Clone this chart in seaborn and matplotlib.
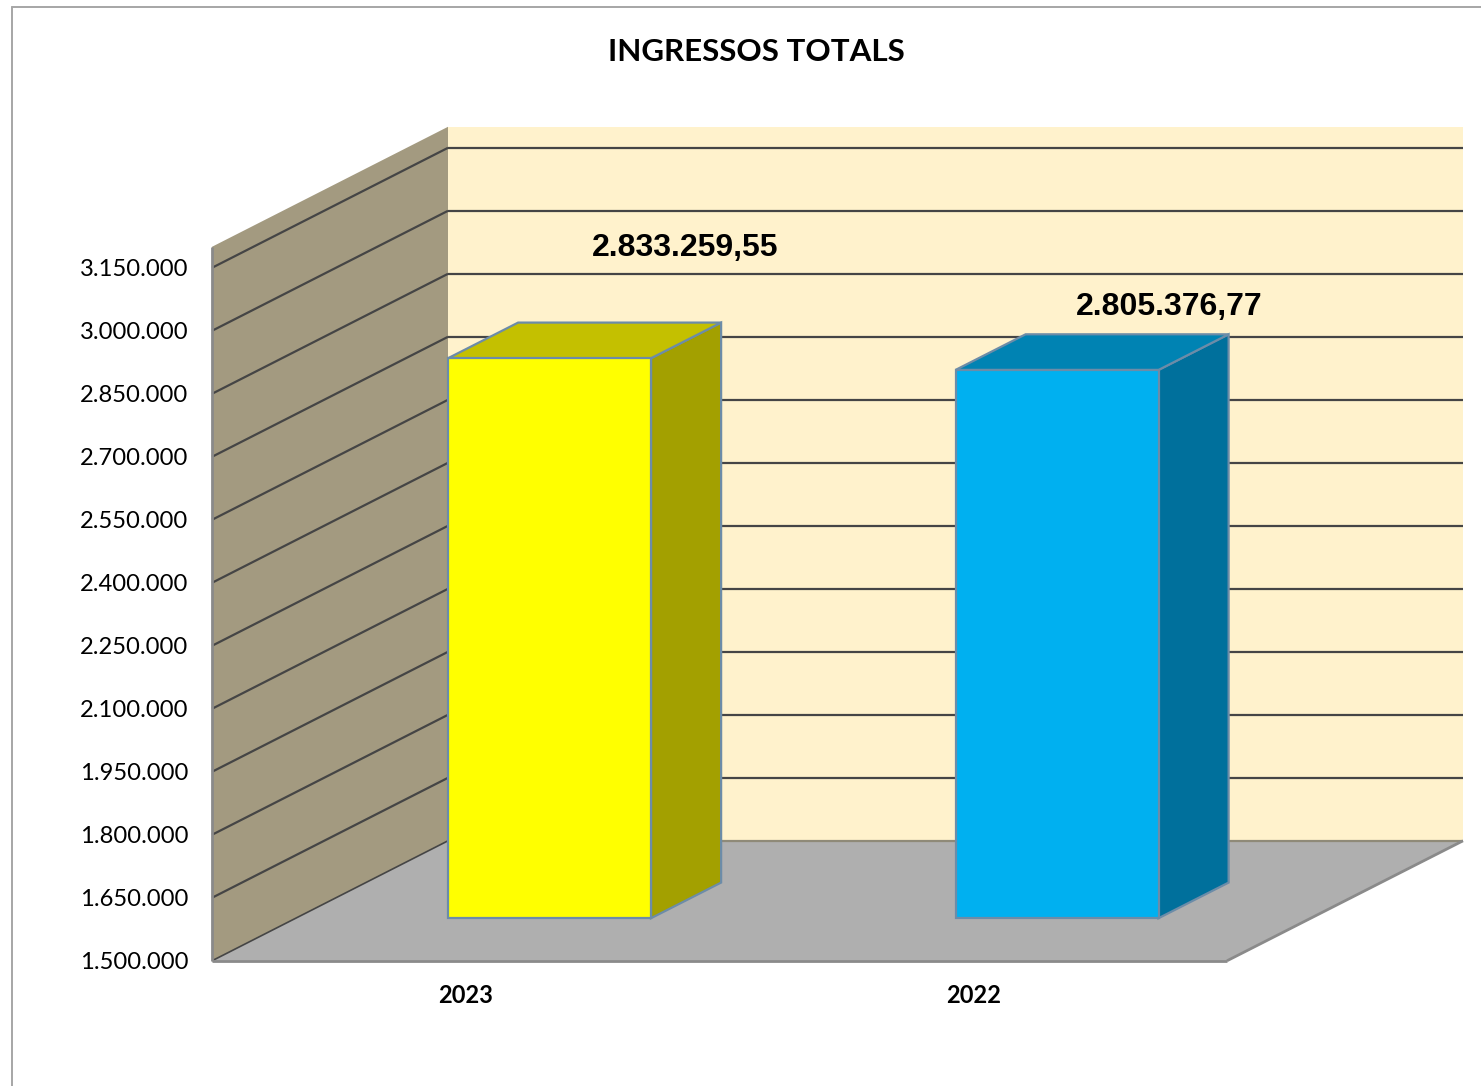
import numpy as np
import pandas as pd
import matplotlib
matplotlib.use("Agg")
import matplotlib.pyplot as plt
from matplotlib.lines import Line2D
from matplotlib.patches import Polygon
from matplotlib.transforms import Affine2D, IdentityTransform
import seaborn as sns

# ---- data ----
years = ["2023", "2022"]
values = [2833259.55, 2805376.77]
value_labels = ["2.833.259,55", "2.805.376,77"]
y_ticks = [1500000, 1650000, 1800000, 1950000, 2100000, 2250000,
           2400000, 2550000, 2700000, 2850000, 3000000, 3150000]
y_tick_labels = ["1.500.000", "1.650.000", "1.800.000", "1.950.000", "2.100.000", "2.250.000",
                 "2.400.000", "2.550.000", "2.700.000", "2.850.000", "3.000.000", "3.150.000"]
title = "INGRESSOS TOTALS"

# ---- style ----
front_colors = ["#FFFF00", "#00B0F0"]
top_colors = ["#C4C000", "#0083B3"]
side_colors = ["#A3A000", "#00709C"]
EDGE = "#6C8CA8"
BACK = "#FFF2CC"
LEFT = "#A39A80"
FLOOR = "#AFAFAF"
GRID = "#454545"
W, H = 1481, 1086
DX, DY = 236, 120        # full depth of the 3-D box, pixels
BAR_D0, BAR_D1 = 0.355, 0.652   # depth span of the bars as a fraction of the box
LABEL_OFFSETS = [(136, 110), (112, 63)]
UI = "Lato"

sns.set_theme(style="white")
plt.rcParams["font.family"] = [UI, "DejaVu Sans"]

fig = plt.figure(figsize=(W / 100, H / 100), dpi=100, facecolor="white")
ax = fig.add_axes([212 / W, (H - 960.8) / H, 1015 / W, 714 / H])
ax.patch.set_alpha(0)

df = pd.DataFrame({"year": years, "value": values})
sns.barplot(data=df, x="year", y="value", hue="year", order=years, hue_order=years,
            palette=dict(zip(years, front_colors)), width=0.40, legend=False, ax=ax,
            saturation=1, edgecolor=EDGE, linewidth=1.6, zorder=5)
ax.set_xlim(-0.5, 1.5)
ax.set_ylim(1500000, 3200000)
ymin, ymax = ax.get_ylim()
xmin, xmax = ax.get_xlim()


def proj(x, y, depth=0.0):
    """Data point on a plane `depth` into the box -> display pixels."""
    px, py = ax.transData.transform((x, y))
    return (px + depth * DX, py + depth * DY)


def face(pts, color, edge=None, lw=0, z=1):
    ax.add_patch(Polygon(pts, closed=True, facecolor=color, edgecolor=edge or color,
                         linewidth=lw, transform=IdentityTransform(), clip_on=False, zorder=z))


def seg(a, b, color=GRID, lw=1.6, z=2):
    ax.add_line(Line2D([a[0], b[0]], [a[1], b[1]], color=color, lw=lw,
                       transform=IdentityTransform(), clip_on=False, zorder=z,
                       solid_capstyle="butt"))


# walls and floor
face([proj(xmin, ymin, 1), proj(xmax, ymin, 1), proj(xmax, ymax, 1), proj(xmin, ymax, 1)], BACK)
face([proj(xmin, ymin), proj(xmin, ymin, 1), proj(xmin, ymax, 1), proj(xmin, ymax)], LEFT)
face([proj(xmin, ymin), proj(xmax, ymin), proj(xmax, ymin, 1), proj(xmin, ymin, 1)], FLOOR)

# gridlines over the walls
for v in y_ticks[1:]:
    seg(proj(xmin, v), proj(xmin, v, 1))
    seg(proj(xmin, v, 1), proj(xmax, v, 1))
seg(proj(xmin, ymin), proj(xmin, ymin, 1), GRID, 1.2, 3)
seg(proj(xmin, ymin, 1), proj(xmax, ymin, 1), "#8F8A78", 1.6, 3)
seg(proj(xmax, ymin), proj(xmax, ymin, 1), "#8A8A8A", 2.0, 3)
seg(proj(xmin, ymin), proj(xmax, ymin), "#8A8A8A", 2.0, 3)
seg(proj(xmin, ymin), proj(xmin, ymax), "#8A8A8A", 2.0, 3)

# bars: the seaborn rectangles are pushed to their depth in the box, with top and side faces
offset = Affine2D().translate(BAR_D0 * DX, BAR_D0 * DY)
for i, (bar, val) in enumerate(zip(ax.patches[:len(values)], values)):
    bar.set_y(ymin)
    bar.set_height(val - ymin)
    bar.set_transform(ax.transData + offset)
    bar.set_clip_on(False)
    x0, x1 = bar.get_x(), bar.get_x() + bar.get_width()
    d0, d1 = BAR_D0, BAR_D1
    face([proj(x1, ymin, d0), proj(x1, ymin, d1), proj(x1, val, d1), proj(x1, val, d0)],
         side_colors[i], EDGE, 1.6, 4)
    face([proj(x0, val, d0), proj(x1, val, d0), proj(x1, val, d1), proj(x0, val, d1)],
         top_colors[i], EDGE, 1.6, 4)
    ax.annotate(value_labels[i], (x0 + (x1 - x0) / 2, val), xycoords="data",
                xytext=(BAR_D0 * DX + LABEL_OFFSETS[i][0], BAR_D0 * DY + LABEL_OFFSETS[i][1]),
                textcoords="offset pixels", ha="center", va="center",
                fontsize=23, fontweight="bold", family="Liberation Sans", color="black",
                annotation_clip=False, zorder=8)

# axes dressing
sns.despine(ax=ax, left=True, bottom=True)
ax.set_xlabel("")
ax.set_ylabel("")
ax.set_yticks(y_ticks, y_tick_labels)
ax.tick_params(axis="y", length=0, pad=17, labelsize=17.1, labelcolor="black")
ax.tick_params(axis="x", length=0, pad=17, labelsize=17, labelcolor="black")
for t in ax.get_xticklabels():
    t.set_fontweight("bold")
ax.set_title(title, fontsize=22.6, fontweight="bold", color="black", x=0.5365, pad=133.5)

# outer chart-area border
border = "#A6A6A6"
fig.add_artist(Line2D([12 / W, 12 / W], [0, (H - 7) / H], color=border, lw=1.4))
fig.add_artist(Line2D([12 / W, 1], [(H - 7) / H, (H - 7) / H], color=border, lw=1.4))

fig.savefig("out.png", dpi=100, facecolor="white")
